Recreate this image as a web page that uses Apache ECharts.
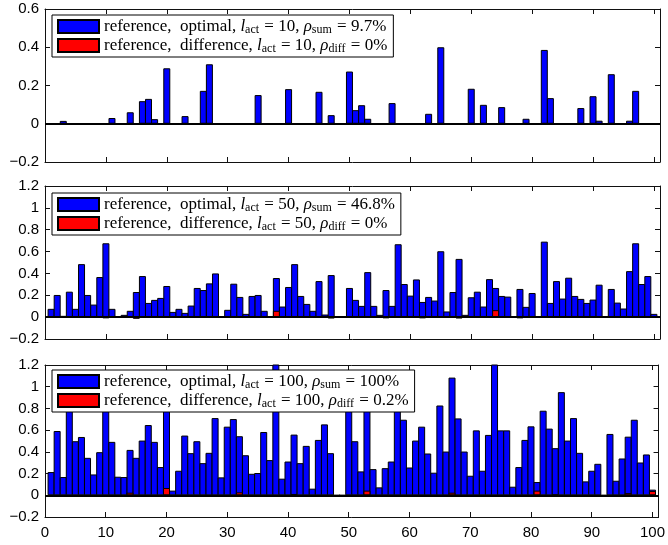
<!DOCTYPE html>
<html>
<head>
<meta charset="utf-8">
<script src="https://cdn.jsdelivr.net/npm/echarts@6/dist/echarts.min.js"></script>
<style>
html, body { margin: 0; padding: 0; background: #fff; }
#main { width: 668px; height: 545px; }
</style>
</head>
<body>
<div id="main"></div>
<script>
// 三个子图的数据（索引 1..100）
var opt1 = [
	0, 0, 0.015, 0, 0, 0, 0, 0, 0, 0,
	0.03, 0, 0, 0.06, 0, 0.118, 0.13, 0.024, 0, 0.29,
	0, 0, 0.04, 0, 0, 0.172, 0.311, 0, 0, 0,
	0, 0, 0, 0, 0.15, 0, 0, 0, 0, 0.181,
	0, 0, 0, 0, 0.167, 0, 0.045, 0, 0, 0.273,
	0.071, 0.097, 0.026, 0, 0, 0, 0.108, 0, 0, 0,
	0, 0, 0.052, 0, 0.4, 0, 0, 0, 0, 0.183,
	0, 0.099, 0, 0, 0.087, 0, 0, 0, 0.026, 0,
	0, 0.386, 0.134, 0, 0, 0, 0, 0.082, 0, 0.144,
	0.016, 0, 0.259, 0, 0, 0.016, 0.172, 0, 0, 0
];
var opt2 = [
	0.076, 0.203, 0.012, 0.233, 0.076, 0.485, 0.203, 0.115, 0.367, 0.676,
	0.076, 0.003, 0.021, 0.058, 0.23, 0.376, 0.13, 0.158, 0.176, 0.285,
	0.048, 0.076, 0.039, 0.106, 0.267, 0.248, 0.309, 0.4, 0, 0.067,
	0.306, 0.185, 0.03, 0.194, 0.203, 0.058, 0, 0.358, 0.097, 0.276,
	0.485, 0.194, 0.121, 0.058, 0.33, 0.024, 0.385, 0, 0, 0.267,
	0.158, 0.103, 0.412, 0.103, 0.021, 0.248, 0.103, 0.667, 0.303, 0.197,
	0.345, 0.139, 0.185, 0.152, 0.603, 0.052, 0.23, 0.533, 0.021, 0.182,
	0.233, 0.097, 0.348, 0.267, 0.194, 0.188, 0, 0.258, 0.094, 0.221,
	0, 0.691, 0.13, 0.33, 0.17, 0.361, 0.194, 0.167, 0.13, 0.161,
	0.297, 0, 0.258, 0.133, 0.079, 0.421, 0.676, 0.303, 0.376, 0.03
];
var opt3 = [
	0.214, 0.592, 0.168, 0.85, 0.498, 0.537, 0.345, 0.192, 0.397, 0.9,
	0.492, 0.171, 0.168, 0.418, 0.345, 0.504, 0.647, 0.492, 0.26, 0.95,
	0.043, 0.226, 0.55, 0.388, 0.498, 0.296, 0.391, 0.711, 0.165, 0.632,
	0.702, 0.544, 0.369, 0.198, 0.205, 0.583, 0.324, 1.25, 0.153, 0.311,
	0.559, 0.296, 0.455, 0.061, 0.51, 0.653, 0.388, 0, 0, 0.9,
	0.498, 0.22, 0.85, 0.241, 0.073, 0.25, 0.311, 0.85, 0.696, 0.256,
	0.504, 0.632, 0.385, 0.208, 0.827, 0.403, 1.084, 0.708, 0.403, 0.18,
	0.598, 0.226, 0.556, 1.25, 0.598, 0.598, 0.079, 0.26, 0.51, 0.635,
	0.122, 0.779, 0.614, 0.434, 0.95, 0.504, 0.711, 0.391, 0.128, 0.226,
	0.29, 0, 0.565, 0.134, 0.339, 0.54, 0.696, 0.302, 0.376, 0.052
];
// 红色差值（稀疏：索引 + 数值）
var diff1Idx = [];
var diff1Val = [];
var diff2Idx = [10, 15, 38, 47, 56, 62, 68, 74, 78];
var diff2Val = [-0.01, -0.015, 0.058, -0.012, -0.01, -0.01, -0.012, 0.064, -0.01];
var diff3Idx = [10, 14, 15, 20, 28, 31, 32, 41, 47, 53, 56, 61, 62, 67, 68, 78, 79, 81, 82, 84, 95, 96, 100];
var diff3Val = [-0.005, 0.024, -0.015, 0.067, -0.01, -0.01, 0.027, 0.012, -0.012, 0.043, -0.01, -0.005, -0.015, 0.024, -0.01, -0.01, -0.01, 0.043, -0.01, 0.005, -0.015, 0.02, 0.04];

var yMin = [-0.2, -0.2, -0.2];
var yMax = [0.6, 1.2, 1.2];
var lact = ['10', '50', '100'];
var rhoSum = ['9.7%', '46.8%', '100%'];
var rhoDiff = ['0%', '0%', '0.2%'];

var optData = [opt1, opt2, opt3];
var diffIdx = [diff1Idx, diff2Idx, diff3Idx];
var diffVal = [diff1Val, diff2Val, diff3Val];

// 布局
var gridTop = [9, 186, 365];
var gridHeight = [153, 153, 152];
var legendTop = [15, 193, 370];

var axisColor = '#111';
var labelFont = { fontFamily: 'Liberation Sans', fontSize: 15, color: '#000' };

var grids = [], xAxes = [], yAxes = [], series = [], legends = [];
var legendMap = {};

for (var g = 0; g < 3; g++) {
	grids.push({ left: 45, right: 8, top: gridTop[g], height: gridHeight[g] });

	// 下、上 x 轴
	for (var k = 0; k < 2; k++) {
		xAxes.push({
			type: 'value', gridIndex: g, position: k === 0 ? 'bottom' : 'top',
			min: 0, max: 101, interval: 10,
			axisLine: { show: true, onZero: false, lineStyle: { color: axisColor, width: 1 } },
			axisTick: { show: true, inside: true, length: 5, lineStyle: { color: axisColor } },
			axisLabel: {
				show: (k === 0 && g === 2), margin: 8,
				fontFamily: labelFont.fontFamily, fontSize: labelFont.fontSize, color: labelFont.color,
				formatter: function (v) { return v % 10 === 0 ? String(v) : ''; }
			},
			splitLine: { show: false }
		});
	}
	// 左、右 y 轴
	for (var k = 0; k < 2; k++) {
		yAxes.push({
			type: 'value', gridIndex: g, position: k === 0 ? 'left' : 'right',
			min: yMin[g], max: yMax[g], interval: 0.2,
			axisLine: { show: true, onZero: false, lineStyle: { color: axisColor, width: 1 } },
			axisTick: { show: true, inside: true, length: 5, lineStyle: { color: axisColor } },
			axisLabel: {
				show: k === 0, margin: 6,
				fontFamily: labelFont.fontFamily, fontSize: labelFont.fontSize, color: labelFont.color,
				formatter: function (v) { return String(Math.round(v * 10) / 10).replace('-', '\u2212'); }
			},
			splitLine: { show: false }
		});
	}

	var od = [];
	for (var i = 0; i < optData[g].length; i++) {
		od.push([i + 1, optData[g][i]]);
	}
	var dd = [];
	for (var i = 0; i < diffIdx[g].length; i++) {
		dd.push([diffIdx[g][i], diffVal[g][i]]);
	}

	var nOpt = 'opt' + g, nDiff = 'diff' + g;
	legendMap[nOpt] = 'reference,  optimal, {i|l}{s|act} = ' + lact[g] + ', {i|ρ}{s|sum} = ' + rhoSum[g];
	legendMap[nDiff] = 'reference,  difference, {i|l}{s|act} = ' + lact[g] + ', {i|ρ}{s|diff} = ' + rhoDiff[g];

	series.push({
		name: nOpt, type: 'bar', xAxisIndex: g * 2, yAxisIndex: g * 2,
		data: od, barWidth: 7, barGap: '-100%',
		itemStyle: { color: '#0000ff', borderColor: '#000', borderWidth: 1 },
		markLine: {
			silent: true, symbol: ['none', 'none'], label: { show: false },
			lineStyle: { color: '#000', width: 2, type: 'solid' },
			data: [{ yAxis: 0 }]
		}
	});
	series.push({
		name: nDiff, type: 'bar', xAxisIndex: g * 2, yAxisIndex: g * 2,
		data: dd, barWidth: 7, barGap: '-100%',
		itemStyle: { color: '#ff0000', borderColor: '#000', borderWidth: 1 }
	});

	legends.push({
		data: [nOpt, nDiff], orient: 'vertical', left: 52, top: legendTop[g],
		icon: 'rect', itemWidth: 41, itemHeight: 13, itemGap: 0,
		padding: [2, 6, 2, 5], backgroundColor: '#fff', borderColor: '#000', borderWidth: 1,
		selectedMode: false,
		formatter: function (name) { return legendMap[name]; },
		textStyle: {
			fontFamily: 'Liberation Serif', fontSize: 17, color: '#000', lineHeight: 18,
			rich: {
				i: { fontFamily: 'Liberation Serif', fontStyle: 'italic', fontSize: 17, color: '#000', lineHeight: 18 },
				s: { fontFamily: 'Liberation Serif', fontSize: 12, color: '#000', padding: [7, 1, 0, 0], lineHeight: 18 }
			}
		}
	});
}

var myChart = echarts.init(document.getElementById('main'));
myChart.setOption({
	animation: false,
	grid: grids,
	xAxis: xAxes,
	yAxis: yAxes,
	legend: legends,
	series: series
});
window.onresize = myChart.resize;
</script>
</body>
</html>
